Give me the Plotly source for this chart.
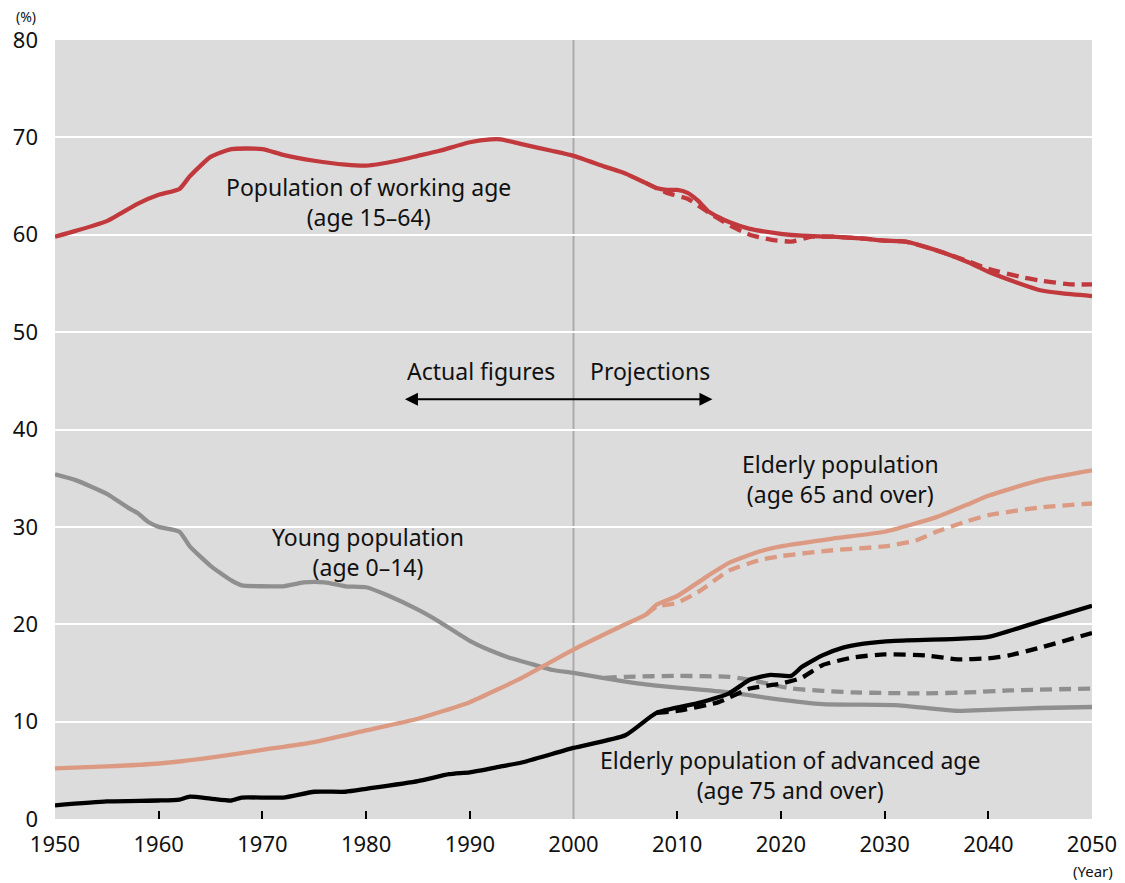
import plotly.graph_objects as go

# ---- data (percent of total population) ----
work_years = [1950, 1952, 1955, 1958, 1960, 1962, 1963, 1965, 1967, 1970, 1972, 1975, 1978, 1980, 1983, 1985,
              1987, 1990, 1992, 1993, 1995, 1998, 2000, 2003, 2005, 2007, 2008, 2009, 2010, 2011, 2012, 2013,
              2014, 2015, 2017, 2020, 2022, 2025, 2028, 2030, 2032, 2035, 2038, 2040, 2043, 2045, 2047, 2050]
work_vals = [59.8, 60.4, 61.4, 63.2, 64.1, 64.7, 66.0, 68.0, 68.8, 68.8, 68.2, 67.6, 67.2, 67.1, 67.6, 68.1,
             68.6, 69.5, 69.8, 69.8, 69.3, 68.6, 68.1, 67.0, 66.3, 65.3, 64.8, 64.6, 64.6, 64.3, 63.5, 62.4,
             61.8, 61.3, 60.6, 60.1, 59.9, 59.8, 59.6, 59.4, 59.3, 58.4, 57.2, 56.2, 55.0, 54.3, 54.0, 53.7]
work_proj_years = [2007, 2009, 2011, 2013, 2015, 2017, 2019, 2021, 2023, 2025, 2028, 2030, 2032, 2035, 2038,
                   2040, 2043, 2045, 2048, 2050]
work_proj_vals = [65.3, 64.3, 63.7, 62.3, 61.0, 60.0, 59.5, 59.3, 59.8, 59.8, 59.6, 59.4, 59.3, 58.4, 57.3,
                  56.5, 55.7, 55.3, 54.9, 54.9]

old_years = [1950, 1955, 1960, 1965, 1970, 1975, 1980, 1985, 1990, 1995, 2000, 2005, 2007, 2008, 2010, 2013,
             2015, 2018, 2020, 2025, 2030, 2035, 2038, 2040, 2045, 2050]
old_vals = [5.2, 5.4, 5.7, 6.3, 7.1, 7.9, 9.1, 10.3, 12.0, 14.5, 17.4, 20.0, 21.0, 22.0, 22.9, 25.0,
            26.3, 27.5, 28.0, 28.8, 29.5, 31.0, 32.3, 33.2, 34.8, 35.8]
old_proj_years = [2007, 2008, 2010, 2012, 2015, 2018, 2020, 2025, 2030, 2033, 2035, 2038, 2040, 2045, 2050]
old_proj_vals = [21.0, 21.8, 22.2, 23.3, 25.5, 26.6, 27.0, 27.6, 28.0, 28.6, 29.5, 30.6, 31.2, 32.0, 32.4]

young_years = [1950, 1952, 1955, 1957, 1958, 1959, 1960, 1962, 1963, 1965, 1967, 1968, 1970, 1972, 1974,
               1976, 1978, 1980, 1982, 1985, 1987, 1990, 1992, 1994, 1996, 1998, 2000, 2005, 2008, 2010,
               2015, 2019, 2024, 2031, 2037, 2040, 2045, 2050]
young_vals = [35.4, 34.8, 33.4, 32.0, 31.4, 30.5, 30.0, 29.5, 28.0, 26.0, 24.5, 24.0, 23.9, 23.9, 24.3,
              24.3, 23.9, 23.8, 23.0, 21.5, 20.3, 18.3, 17.3, 16.5, 15.9, 15.3, 15.0, 14.1, 13.7, 13.5,
              13.0, 12.4, 11.8, 11.7, 11.1, 11.2, 11.4, 11.5]
young_proj_years = [2003, 2005, 2010, 2015, 2017, 2021, 2027, 2034, 2038, 2042, 2050]
young_proj_vals = [14.5, 14.6, 14.7, 14.6, 14.3, 13.4, 13.0, 12.9, 13.0, 13.2, 13.4]

adv_years = [1950, 1955, 1960, 1962, 1963, 1965, 1967, 1968, 1972, 1975, 1978, 1980, 1985, 1988, 1990,
             1993, 1995, 2000, 2005, 2008, 2012, 2015, 2017, 2019, 2021, 2022, 2024, 2026, 2028, 2031,
             2037, 2040, 2045, 2050]
adv_vals = [1.4, 1.8, 1.9, 2.0, 2.3, 2.1, 1.9, 2.2, 2.2, 2.8, 2.8, 3.1, 3.9, 4.6, 4.8,
            5.4, 5.8, 7.3, 8.6, 10.9, 11.9, 12.9, 14.3, 14.8, 14.7, 15.6, 16.8, 17.6, 18.0, 18.3,
            18.5, 18.7, 20.3, 21.9]
adv_proj_years = [2008, 2010, 2014, 2017, 2020, 2022, 2024, 2027, 2030, 2034, 2037, 2040, 2042, 2045, 2050]
adv_proj_vals = [10.9, 11.1, 12.0, 13.4, 13.9, 14.5, 15.8, 16.6, 16.9, 16.8, 16.4, 16.5, 16.8, 17.6, 19.1]

x_ticks = [1950, 1960, 1970, 1980, 1990, 2000, 2010, 2020, 2030, 2040, 2050]
x_tickmarks = [1960, 1970, 1980, 1990, 2010, 2020, 2030, 2040]
y_ticks = [0, 10, 20, 30, 40, 50, 60, 70, 80]

RED = "#c1393c"
SALMON = "#dc9a82"
GRAY = "#8f8f8f"
BLACK = "#000000"
FONT = "Noto Sans"
LW = 4.3

fig = go.Figure()

def add(xs, ys, color, dash=None):
    fig.add_trace(go.Scatter(x=xs, y=ys, mode="lines",
                             line=dict(color=color, width=LW, dash=dash or "solid", shape="spline",
                                       smoothing=0.5),
                             hoverinfo="skip", showlegend=False))

add(young_proj_years, young_proj_vals, GRAY, "12px,7px")
add(young_years, young_vals, GRAY)
add(old_proj_years, old_proj_vals, SALMON, "12px,7px")
add(old_years, old_vals, SALMON)
add(work_proj_years, work_proj_vals, RED, "12px,7px")
add(work_years, work_vals, RED)
add(adv_proj_years, adv_proj_vals, BLACK, "12px,7px")
add(adv_years, adv_vals, BLACK)

# vertical separator at 2000
fig.add_shape(type="line", x0=2000, x1=2000, y0=0, y1=1, xref="x", yref="paper",
              line=dict(color="#ababab", width=2), layer="between")

txt = dict(size=23, color="#111111", family=FONT)
labels = [
    (1980.2, 63.4, "Population of working age<br>(age 15–64)"),
    (1980.2, 27.4, "Young population<br>(age 0–14)"),
    (2025.7, 34.9, "Elderly population<br>(age 65 and over)"),
    (2020.9, 4.55, "Elderly population of advanced age<br>(age 75 and over)"),
]
for x, y, t in labels:
    fig.add_annotation(x=x, y=y, text=t, showarrow=False, font=txt, align="center",
                       xanchor="center", yanchor="middle")

fig.add_annotation(x=1998.4, y=46.0, text="Actual figures", showarrow=False, font=txt,
                   xanchor="right", yanchor="middle")
fig.add_annotation(x=2001.4, y=46.0, text="Projections", showarrow=False, font=txt,
                   xanchor="left", yanchor="middle")
# double-headed arrow
fig.add_annotation(x=2013.4, y=43.1, ax=1983.6, ay=43.1, xref="x", yref="y", axref="x", ayref="y",
                   text="", showarrow=True, arrowhead=2, startarrowhead=2, arrowside="end+start",
                   arrowsize=1.3, startarrowsize=1.3, arrowwidth=2, arrowcolor="#000000")

fig.add_annotation(x=-0.028, y=1.030, xref="paper", yref="paper", text="(%)", showarrow=False,
                   font=dict(size=14, color="#111111", family=FONT), xanchor="center", yanchor="middle")
fig.add_annotation(x=1.001, y=-0.067, xref="paper", yref="paper", text="(Year)", showarrow=False,
                   font=dict(size=15, color="#111111", family=FONT), xanchor="center", yanchor="middle")

fig.update_layout(
    width=1117, height=875,
    margin=dict(l=47, r=33, t=32, b=64),
    paper_bgcolor="white",
    plot_bgcolor="#dcdcdc",
    font=dict(family=FONT, size=22, color="#111111"),
    xaxis=dict(range=[1950, 2050], tickvals=x_ticks, ticks="", showgrid=False, zeroline=False,
               showline=False, tickfont=dict(size=22), ticklabelstandoff=10, automargin=False,
               ticklabeloverflow="allow"),
    xaxis2=dict(range=[1950, 2050], overlaying="x", matches="x", side="bottom", tickvals=x_tickmarks,
                ticks="inside", ticklen=8, tickwidth=2, tickcolor="#000000", showticklabels=False,
                showgrid=False, zeroline=False, showline=False, automargin=False),
    yaxis=dict(range=[0, 80], tickvals=y_ticks, showgrid=True, gridcolor="white", gridwidth=2,
               zeroline=False, showline=False, ticks="", tickfont=dict(size=22), ticklabelstandoff=16,
               automargin=False, ticklabeloverflow="allow"),
)
# invisible trace so xaxis2 is rendered
fig.add_trace(go.Scatter(x=[1950], y=[0], xaxis="x2", mode="markers", marker=dict(opacity=0),
                         hoverinfo="skip", showlegend=False))

fig.write_html("out.html")
